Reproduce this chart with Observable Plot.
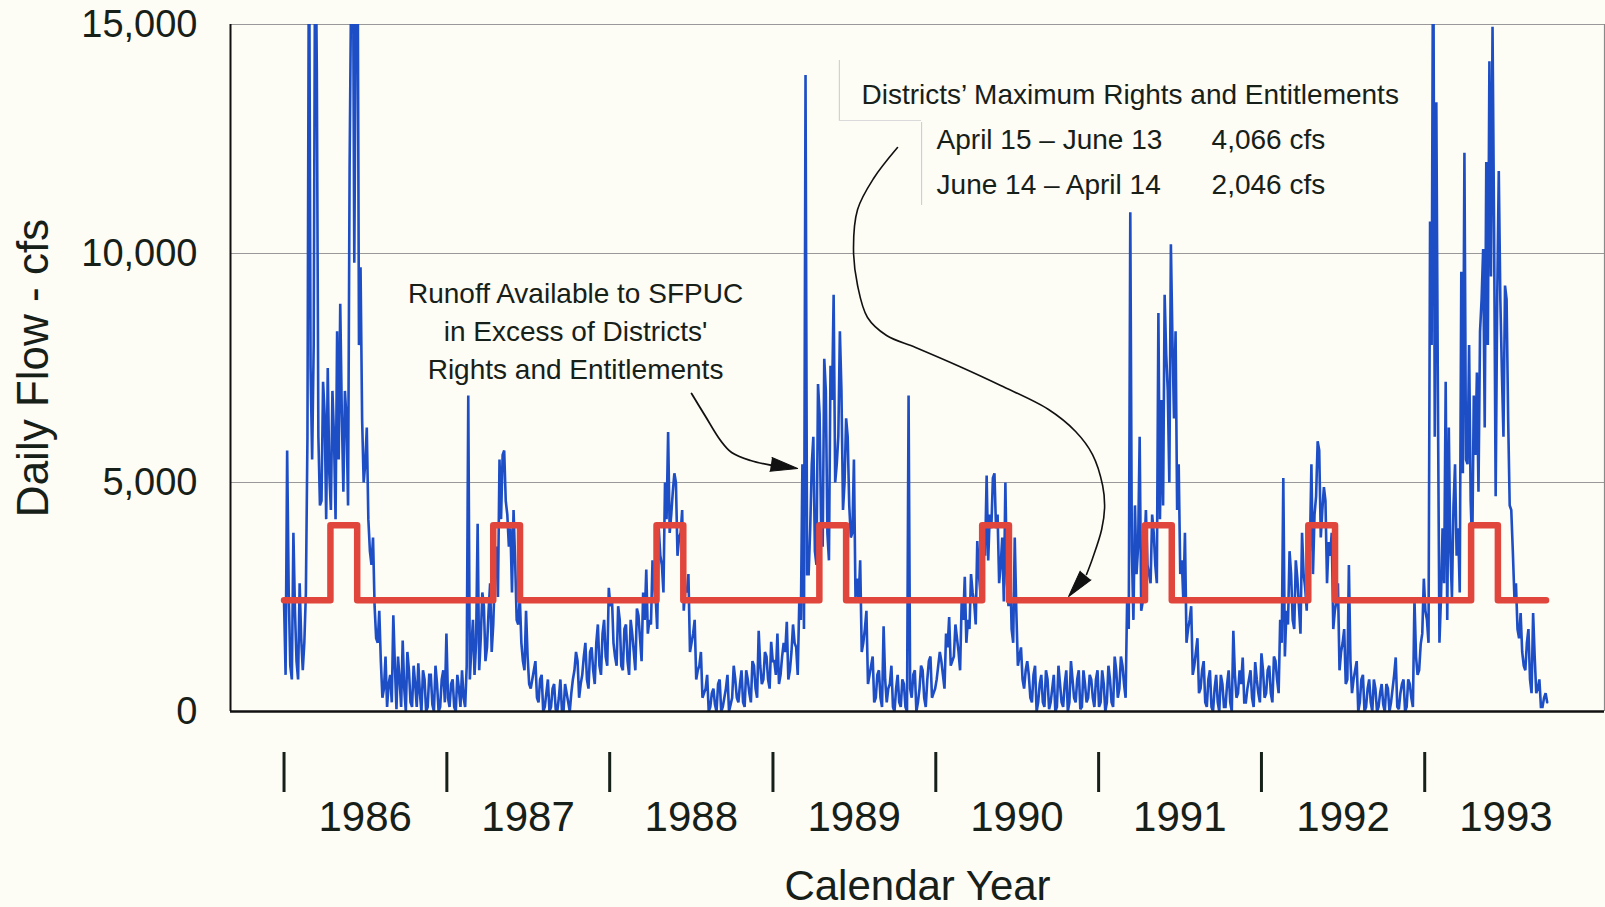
<!DOCTYPE html>
<html>
<head>
<meta charset="utf-8">
<script src="https://cdn.jsdelivr.net/npm/d3@7"></script>
<script src="https://cdn.jsdelivr.net/npm/@observablehq/plot@0.6"></script>
<style>
  html, body { margin: 0; padding: 0; background: #fdfcf5; }
  #chart svg { display: block; }
</style>
</head>
<body>
<div id="chart"></div>
<script>
// ---- Daily flow (cfs) ----
// Weekly readings, one value every 7 days from 1986-01-01
const flow1986 = [2400,5700,1000,3900,1100,2800,900,2600,18000,5500,
  18000,6000,4600,6500,7500,4400,6000,8300,8900,4800,
  6400,11900,18000,15500,8000,6400,5400,4200,3200,2300,
  1500,1100,500,100,800,2100,50,700,1550,0,
  900,100,600,1050,0,700,100,800,0,600,
  100,900,1700];
const flow1987 = [100,700,0,500,900,100,6900,1400,800,4100,
  1600,2300,1400,2800,1900,3600,5500,5600,4600,3600,
  2600,3300,1900,1500,900,1200,500,900,300,700,
  0,400,0,500,50,300,0,600,200,400,
  900,1100,600,1200,700,1300,900,1500,1000,1700,
  1200,2700];
const flow1988 = [2500,1200,2300,1000,1800,1100,2000,1300,2250,1600,
  2600,3100,2000,3300,2500,4000,3200,5000,6100,4300,
  5200,3400,3900,2200,2600,1300,1700,700,1000,300,
  500,0,400,150,600,0,300,800,150,1000,
  300,600,200,900,400,1100,500,1760,600,1300,
  700,1520];
const flow1989 = [1100,1700,800,1500,1960,900,1900,1400,2400,5400,
  13900,3000,5400,3500,7150,4000,7700,3900,7550,9100,
  5400,8300,4400,6400,4500,3900,2500,2400,1300,1800,
  600,1000,200,800,300,1860,200,600,100,500,
  200,700,100,6900,300,900,200,1000,300,700,
  1200,400];
const flow1990 = [700,1300,800,1700,2060,1100,1900,1300,2400,2940,
  2000,3000,2400,3720,2600,4000,5150,4300,5100,4000,
  2800,3800,5000,2300,1800,3800,1000,1400,500,1100,
  300,800,0,600,200,900,50,500,0,1000,
  200,600,0,1100,300,700,50,900,200,800,
  300,700];
const flow1991 = [100,900,0,1000,200,1200,300,1200,600,2500,
  10900,2000,3000,6000,2400,4400,3000,4300,3200,8700,
  6800,9100,7000,10200,6400,4400,3000,2400,1500,2000,
  800,1300,400,900,200,700,100,500,200,800,
  100,600,200,1760,300,900,1180,200,700,300,
  1080,400];
const flow1992 = [1270,300,900,400,1200,700,2000,5100,2200,3500,
  2000,3300,2300,3900,2700,4000,5400,4300,5900,3800,
  4900,2800,3400,1800,2400,900,1500,600,3200,400,
  900,0,700,0,500,200,700,0,400,150,
  600,0,500,1180,50,600,0,700,300,2450,
  800,1470];
const flow1993 = [2900,2000,10700,18000,13300,1500,4000,7200,6200,2500,
  5400,4000,9600,12200,5400,4600,6900,7400,8300,10100,
  12000,14200,14950,4700,11800,7400,9300,6400,4400,2500,
  1800,2150,1000,1500,700,2150,400,700,100,400];

// Mid-week readings (3.5 days after each weekly reading)
const mid1986 = [800,2600,700,2200,700,1600,1500,6000,7500,8000,
  14000,4500,7200,4200,5200,7000,4200,5500,6500,7000,
  4500,16000,9800,18000,9700,5000,6200,3500,3800,1600,
  2200,300,1200,600,200,1000,1200,100,500,1300,
  200,1000,100,400,900,0,800,150,1000,0,
  700,200,300];
const mid1987 = [600,100,800,100,300,1000,700,2000,1500,900,
  2600,1100,2200,1300,3000,2500,4200,5700,4300,4000,
  4400,2000,2500,1100,2200,600,700,1100,200,800,
  100,700,100,600,0,700,0,400,0,700,
  1300,300,800,1500,500,1400,600,1900,800,2000,
  1000,2300];
const mid1988 = [1500,1000,2000,900,1900,800,1700,900,2100,1100,
  2000,1700,1900,2700,1800,3400,2600,4200,3900,4800,
  5000,3800,4400,2700,3000,1500,2000,900,1300,400,
  800,100,500,0,700,100,500,0,300,700,
  200,900,100,700,200,1000,300,1000,700,1200,
  500,1100,800];
const mid1989 = [600,1200,1300,700,1300,1500,800,2000,1800,3000,
  4000,6000,3200,6500,3600,7000,3300,6800,5000,6000,
  7000,5000,6000,3800,5500,2900,3300,1500,2200,800,
  1200,300,900,100,700,500,1000,0,800,100,
  600,0,500,800,0,500,900,100,1100,300,
  500,1000];
const mid1990 = [1100,500,1400,1000,1200,1600,900,2000,1500,1800,
  2600,1900,3000,2400,3400,3300,4000,5200,4300,3200,
  2400,2800,3200,1500,2200,1200,700,900,800,200,
  1000,200,800,100,700,200,800,100,600,100,
  900,200,700,200,900,100,600,300,700,100,
  900,200];
const mid1991 = [600,200,700,100,900,500,1000,300,1800,3500,
  4500,3600,2200,3500,3200,2800,3900,2800,4200,4500,
  7800,5000,8100,8300,5400,3300,3900,1800,2300,1000,
  1600,500,1100,100,900,0,800,0,600,100,
  900,0,800,400,600,200,500,900,100,700,
  200,900];
const mid1992 = [400,1000,200,1100,400,1500,1200,1900,3000,1800,
  2900,1700,3000,2200,3500,3000,4700,5700,4400,4600,
  3700,3900,2200,2800,1300,1800,700,1100,700,1100,
  200,800,100,700,0,500,100,600,0,500,
  200,800,100,400,700,100,600,100,1200,900,
  1700,2200];
const mid1993 = [1500,8000,6000,7000,2500,2800,2000,3500,4500,3400,
  2600,5200,5500,8000,3500,5600,4800,9000,6200,8000,
  9500,10500,9000,9000,6000,9000,4500,3500,2800,1600,
  1300,900,1800,400,1200,500,100,300,200];

// ---- Districts' rights step line ----
const rightsYears = [1986, 1987, 1988, 1989, 1990, 1991, 1992, 1993];
const rightsHigh = 4066;   // April 15 - June 13
const rightsLow = 2430;    // level drawn in the picture for June 14 - April 14

// ---- Axes ----
const yearLabels = [1986, 1987, 1988, 1989, 1990, 1991, 1992, 1993];
const yTicks = [0, 5000, 10000, 15000];
const gridValues = [5000, 10000, 15000];

// ---- Annotation geometry (decimal year, cfs) ----
const arrowRunoff = [[1988.501, 6943], [1988.587, 6441], [1988.679, 5917], [1988.747, 5655], [1988.863, 5480], [1988.998, 5371]];
const arrowRights = [[1989.765, 12314], [1989.618, 11638], [1989.520, 10961], [1989.495, 10087], [1989.520, 9301],
  [1989.581, 8603], [1989.698, 8210], [1989.876, 7948], [1990.146, 7533], [1990.398, 7118], [1990.692, 6594],
  [1990.858, 6114], [1990.962, 5611], [1991.024, 4934], [1991.036, 4454], [1991.018, 3974], [1990.962, 3341], [1990.925, 2991]];
const arrowHeads = [{x: 1989.152, y: 5305, angle: 98.7}, {x: 1990.815, y: 2511, angle: 219}];
const runoffNote = [{x: 1987.789, y: 7253, text: "Runoff Available to SFPUC\nin Excess of Districts'\nRights and Entitlements"}];
const boxNotes = [
  {x: 1989.5445, y: 13269, text: "Districts\u2019 Maximum Rights and Entitlements"},
  {x: 1990.0048, y: 12286, text: "April 15 \u2013 June 13"},
  {x: 1990.0048, y: 11304, text: "June 14 \u2013 April 14"},
  {x: 1991.6926, y: 12286, text: "4,066 cfs"},
  {x: 1991.6926, y: 11304, text: "2,046 cfs"}
];
const boxRulesV = [{x: 1989.408, y1: 12904, y2: 14214}, {x: 1989.913, y1: 11048, y2: 12860}];
const boxRulesH = [{x1: 1989.408, x2: 1989.913, y: 12904}];

// ---- Build tables ----
const DAY = 864e5;
const T0 = Date.UTC(1986, 0, 1);
const yr = d => new Date(T0 + (d - 1986) * 365.25 * DAY);
const weekly = [...flow1986, ...flow1987, ...flow1988, ...flow1989, ...flow1990, ...flow1991, ...flow1992, ...flow1993];
const midweek = [...mid1986, ...mid1987, ...mid1988, ...mid1989, ...mid1990, ...mid1991, ...mid1992, ...mid1993];
const flow = [];
weekly.forEach((cfs, i) => {
  flow.push({date: new Date(T0 + i * 7 * DAY), cfs});
  if (i < midweek.length) flow.push({date: new Date(T0 + (i * 7 + 3.5) * DAY), cfs: midweek[i]});
});

const rights = [{date: new Date(Date.UTC(rightsYears[0], 0, 1)), cfs: rightsLow}];
for (const y of rightsYears) {
  rights.push({date: new Date(Date.UTC(y, 3, 15)), cfs: rightsHigh});
  rights.push({date: new Date(Date.UTC(y, 5, 14)), cfs: rightsLow});
}
rights.push({date: new Date(Date.UTC(1993, 8, 30)), cfs: rightsLow});

const yearTicks = yearLabels.map(y => new Date(Date.UTC(y, 0, 1)));
const yearMids = yearLabels.map(y => new Date(Date.UTC(y, 6, 2)));
const xDomain = [new Date(Date.UTC(1985, 8, 3)), new Date(Date.UTC(1994, 1, 8))];

const ink = "#172018";
const blue = "#1d4ec6";
const red = "#e1463d";
const font = "'Liberation Sans', Arial, Helvetica, sans-serif";

const chart = Plot.plot({
  width: 1605,
  height: 907,
  marginLeft: 230,
  marginRight: 1,
  marginTop: 24,
  marginBottom: 196,
  style: {background: "#fdfcf5", fontFamily: font, color: ink, overflow: "visible"},
  x: {type: "utc", domain: xDomain},
  y: {domain: [0, 15000]},
  marks: [
    Plot.ruleY(gridValues, {stroke: "#999", strokeWidth: 1.1}),
    Plot.ruleX([xDomain[1]], {stroke: "#8a8a8a", strokeWidth: 1.2}),
    Plot.ruleX(boxRulesV, {x: d => yr(d.x), y1: "y1", y2: "y2", stroke: "#c9c9c9", strokeWidth: 1}),
    Plot.ruleY(boxRulesH, {x1: d => yr(d.x1), x2: d => yr(d.x2), y: "y", stroke: "#dadada", strokeWidth: 1}),
    Plot.line(flow, {x: "date", y: "cfs", stroke: blue, strokeWidth: 2.6, strokeLinejoin: "miter", strokeMiterlimit: 2, clip: true}),
    Plot.line(rights, {x: "date", y: "cfs", curve: "step-after", stroke: red, strokeWidth: 6.5, strokeLinejoin: "round", strokeLinecap: "round"}),
    Plot.ruleX([xDomain[0]], {stroke: "#111", strokeWidth: 2}),
    Plot.ruleY([0], {stroke: "#111", strokeWidth: 2.5}),
    Plot.axisY({ticks: yTicks, tickFormat: d3.format(","), tickSize: 0, tickPadding: 33, fontSize: 38, label: null, color: ink}),
    Plot.axisX({ticks: yearTicks, tickSize: 40, tickFormat: () => "", dy: 41, strokeWidth: 3, label: null, color: ink}),
    Plot.axisX({ticks: yearMids, tickSize: 0, tickPadding: 90, tickFormat: d3.utcFormat("%Y"), fontSize: 42, label: null, color: ink}),
    Plot.text(["Daily Flow - cfs"], {frameAnchor: "left", dx: -197, rotate: -90, textAnchor: "middle", lineAnchor: "middle", fontSize: 44, fill: ink}),
    Plot.text(["Calendar Year"], {frameAnchor: "bottom", dy: 188, textAnchor: "middle", lineAnchor: "bottom", fontSize: 42, fill: ink}),
    Plot.line(arrowRunoff, {x: d => yr(d[0]), y: d => d[1], curve: "catmull-rom", stroke: "#111", strokeWidth: 1.8}),
    Plot.line(arrowRights, {x: d => yr(d[0]), y: d => d[1], curve: "catmull-rom", stroke: "#111", strokeWidth: 1.6}),
    Plot.vector(arrowHeads, {x: d => yr(d.x), y: "y", rotate: "angle", length: 27, r: 7, shape: "spike", anchor: "end", fill: "#111", stroke: "#111", strokeWidth: 1}),
    Plot.text(runoffNote, {x: d => yr(d.x), y: "y", text: "text", textAnchor: "middle", lineAnchor: "bottom", lineHeight: 1.364, fontSize: 28, fill: ink}),
    Plot.text(boxNotes, {x: d => yr(d.x), y: "y", text: "text", textAnchor: "start", lineAnchor: "bottom", fontSize: 28, fill: ink})
  ]
});
document.getElementById("chart").append(chart);
</script>
</body>
</html>
